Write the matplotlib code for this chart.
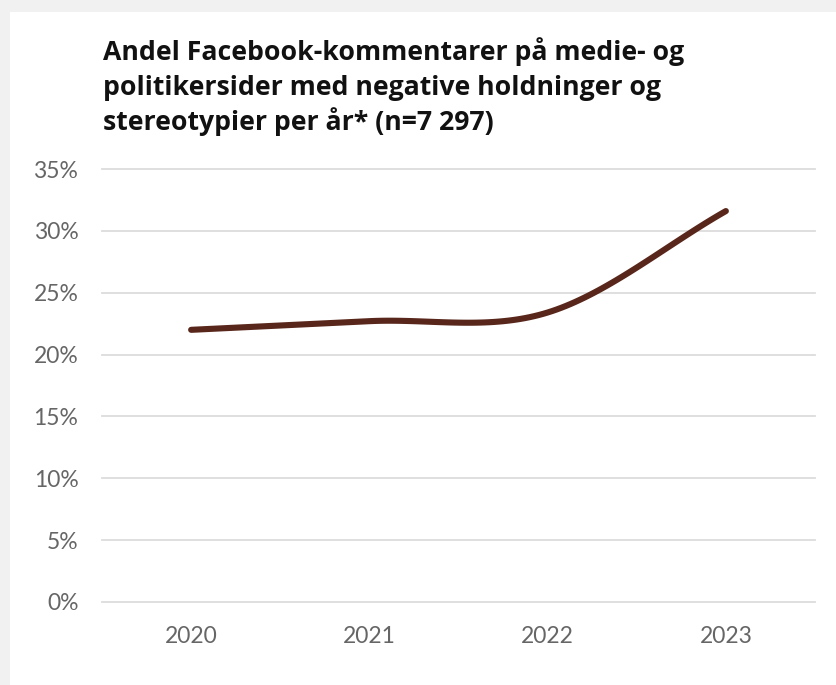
import numpy as np
import matplotlib.pyplot as plt
from matplotlib.patches import Rectangle

years = ["2020", "2021", "2022", "2023"]
andel = [22.0, 22.7, 23.4, 31.6]  # prosent
y_ticks = [0, 5, 10, 15, 20, 25, 30, 35]

title_lines = [
    "Andel Facebook-kommentarer på medie- og",
    "politikersider med negative holdninger og",
    "stereotypier per år* (n=7 297)",
]


def catmull_rom(xs, ys, n=40):
    # glatt kurve gjennom punktene (samme idé som d3 curveCatmullRom)
    xs = np.asarray(xs, float)
    ys = np.asarray(ys, float)
    m = np.zeros_like(ys)
    m[1:-1] = (ys[2:] - ys[:-2]) / (xs[2:] - xs[:-2])
    m[0] = (ys[1] - ys[0]) / (xs[1] - xs[0])
    m[-1] = (ys[-1] - ys[-2]) / (xs[-1] - xs[-2])
    out_x, out_y = [], []
    for i in range(len(xs) - 1):
        h = xs[i + 1] - xs[i]
        t = np.linspace(0, 1, n, endpoint=(i == len(xs) - 2))
        h00 = 2 * t**3 - 3 * t**2 + 1
        h10 = t**3 - 2 * t**2 + t
        h01 = -2 * t**3 + 3 * t**2
        h11 = t**3 - t**2
        out_x.append(xs[i] + t * h)
        out_y.append(h00 * ys[i] + h10 * h * m[i] + h01 * ys[i + 1] + h11 * h * m[i + 1])
    return np.concatenate(out_x), np.concatenate(out_y)


W, H = 837, 685
fig = plt.figure(figsize=(W / 100, H / 100), dpi=100)
fig.patch.set_facecolor("#f1f1f1")
fig.patches.append(Rectangle((10 / W, 0), 1, 1 - 12 / H, transform=fig.transFigure,
                             facecolor="white", edgecolor="none", zorder=-10))

ax = fig.add_axes([102 / W, 1 - 602 / H, (815 - 102) / W, (602 - 169) / H])
ax.set_facecolor("none")

x = np.arange(len(years))
sx, sy = catmull_rom(x, andel)
ax.plot(sx, sy, color="#58261a", lw=4.4, solid_capstyle="round", zorder=3)

ax.set_xlim(-0.5, len(years) - 0.5)
ax.set_ylim(0, 35)
ax.set_xticks(x)
ax.set_xticklabels(years)
ax.set_yticks(y_ticks)
ax.set_yticklabels([f"{v}%" for v in y_ticks])
ax.tick_params(length=0, labelsize=16.5, labelcolor="#666666")
ax.tick_params(axis="y", pad=17)
ax.tick_params(axis="x", pad=17)
for lab in ax.get_xticklabels() + ax.get_yticklabels():
    lab.set_fontfamily("Lato")

ax.grid(axis="y", color="#dcdcdc", lw=1.3)
for gl in ax.get_ygridlines():
    gl.set_clip_on(False)
ax.set_axisbelow(True)
for s in ax.spines.values():
    s.set_visible(False)

for i, line in enumerate(title_lines):
    fig.text(103 / W, 1 - (60 + i * 35) / H, line, fontsize=19.2, fontweight="bold",
             fontfamily="Open Sans", color="#111111", va="baseline", ha="left")

fig.savefig("out.png", dpi=100, facecolor=fig.get_facecolor())
